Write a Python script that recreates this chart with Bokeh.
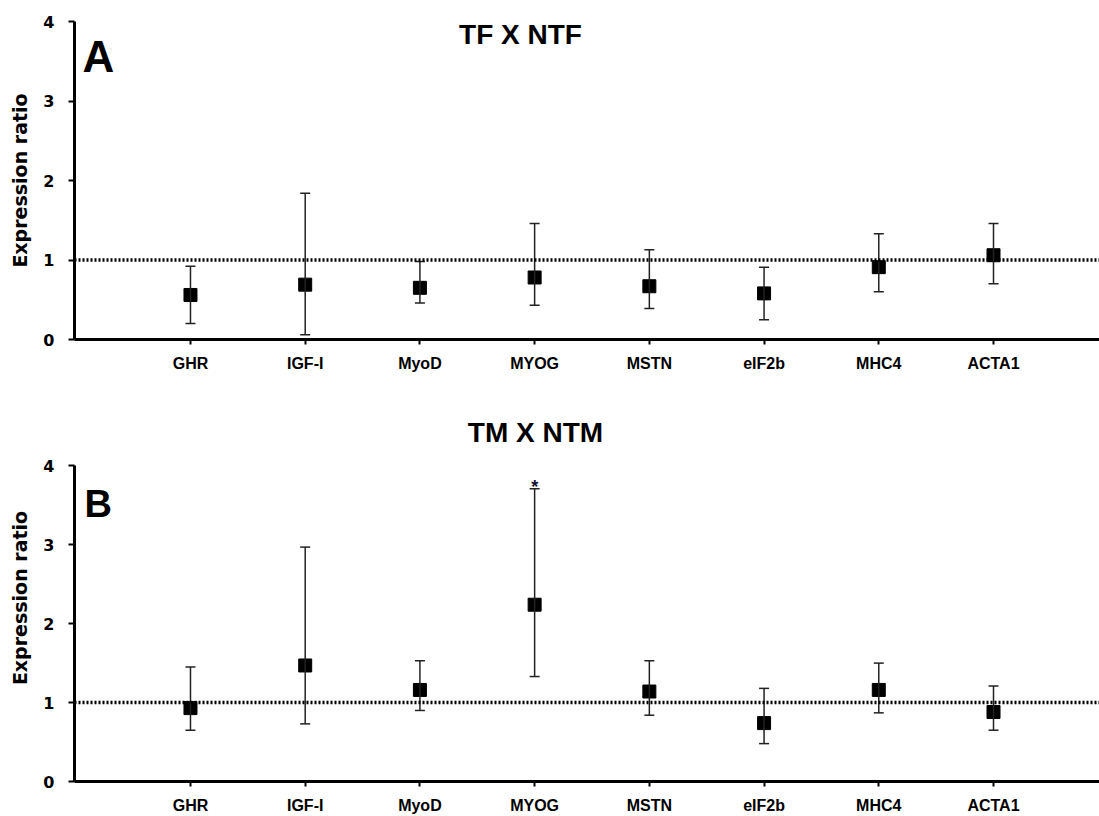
from bokeh.plotting import figure
from bokeh.models import (Range1d, FixedTicker, Whisker, TeeHead, Span, Label,
                          ColumnDataSource)
from bokeh.layouts import column
from bokeh.core.properties import value
from bokeh.embed import file_html
from bokeh.resources import INLINE

# ---- data ----
genes = ["GHR", "IGF-I", "MyoD", "MYOG", "MSTN", "eIF2b", "MHC4", "ACTA1"]

tf_mean = [0.56, 0.69, 0.65, 0.78, 0.67, 0.58, 0.91, 1.06]
tf_upper = [0.92, 1.84, 0.98, 1.46, 1.13, 0.91, 1.33, 1.46]
tf_lower = [0.20, 0.06, 0.46, 0.43, 0.39, 0.25, 0.60, 0.70]

tm_mean = [0.93, 1.47, 1.16, 2.24, 1.14, 0.74, 1.16, 0.88]
tm_upper = [1.45, 2.97, 1.53, 3.71, 1.53, 1.18, 1.50, 1.21]
tm_lower = [0.65, 0.73, 0.90, 1.33, 0.84, 0.48, 0.87, 0.65]
tm_sig = ["", "", "", "*", "", "", "", ""]

y_ticks = [0, 1, 2, 3, 4]
titles = ["TF X NTF", "TM X NTM"]
letters = ["A", "B"]
y_label = "Expression ratio"

SANS = "Liberation Sans"
DEJ = "DejaVu Sans"


def panel(mean, upper, lower, sig, title, letter, height, top, bottom, y_end,
          title_pos, letter_pos, letter_size):
    x = list(range(len(genes)))
    src = ColumnDataSource(dict(x=x, mean=mean, upper=upper, lower=lower,
                                sig=sig if sig else [""] * len(genes)))
    p = figure(width=1099, height=height, output_backend="svg",
               toolbar_location=None,
               x_range=Range1d(-1.011, 7.924), y_range=Range1d(0, y_end),
               min_border_left=74, min_border_right=0,
               min_border_top=top, min_border_bottom=bottom)
    p.outline_line_color = None
    p.grid.visible = False
    p.background_fill_color = "white"
    p.border_fill_color = "white"

    # y axis
    yax = p.yaxis[0]
    yax.ticker = FixedTicker(ticks=y_ticks)
    yax.bounds = (0, 4)
    yax.axis_line_width = 3
    yax.axis_line_color = "black"
    yax.major_tick_line_width = 2
    yax.major_tick_out = 6
    yax.major_tick_in = 0
    yax.minor_tick_line_color = None
    yax.major_label_text_font = DEJ
    yax.major_label_text_font_style = "bold"
    yax.major_label_text_font_size = "16px"
    yax.major_label_text_color = "black"
    yax.major_label_standoff = 14
    yax.axis_label = y_label
    yax.axis_label_text_font = DEJ
    yax.axis_label_text_font_style = "bold"
    yax.axis_label_text_font_size = "19px"
    yax.axis_label_text_color = "black"
    yax.axis_label_standoff = 9

    # x axis
    xax = p.xaxis[0]
    xax.ticker = FixedTicker(ticks=x)
    xax.major_label_overrides = {i: g for i, g in enumerate(genes)}
    xax.axis_line_width = 3
    xax.axis_line_color = "black"
    xax.major_tick_line_width = 2
    xax.major_tick_out = 5
    xax.major_tick_in = 0
    xax.minor_tick_line_color = None
    xax.major_label_text_font = SANS
    xax.major_label_text_font_style = "bold"
    xax.major_label_text_font_size = "16px"
    xax.major_label_text_color = "black"
    xax.major_label_standoff = 10

    # reference line at 1
    p.add_layout(Span(location=1, dimension="width", line_color="black",
                      line_width=3.5, line_dash="2 2"))

    # error bars
    p.add_layout(Whisker(source=src, base="x", upper="upper", lower="lower",
                         line_width=1.5, line_color="#222222",
                         upper_head=TeeHead(size=10, line_width=1.5, line_color="#222222"),
                         lower_head=TeeHead(size=10, line_width=1.5, line_color="#222222"),
                         level="glyph"))
    p.scatter("x", "mean", source=src, marker="square", size=13,
              fill_color="black", line_color="black")

    if sig:
        p.text("x", "upper", text="sig", source=src, text_align="center",
               text_baseline="alphabetic", y_offset=-2,
               text_font=value(SANS), text_font_style="bold",
               text_font_size="18px", text_color="#111133")

    p.add_layout(Label(x=title_pos[0], y=title_pos[1], x_units="screen",
                       y_units="screen", text=title, text_align="center",
                       text_baseline="alphabetic", text_font=SANS,
                       text_font_style="bold", text_font_size="28px",
                       text_color="black"))
    p.add_layout(Label(x=letter_pos[0], y=letter_pos[1], x_units="screen",
                       y_units="screen", text=letter, text_align="left",
                       text_baseline="alphabetic", text_font=SANS,
                       text_font_style="bold", text_font_size=letter_size,
                       text_color="black"))
    return p


pa = panel(tf_mean, tf_upper, tf_lower, None, titles[0], letters[0],
           height=410, top=21, bottom=71, y_end=4,
           title_pos=(446, 305), letter_pos=(8, 283), letter_size="44px")
pb = panel(tm_mean, tm_upper, tm_lower, tm_sig, titles[1], letters[1],
           height=406, top=4, bottom=33, y_end=4.65,
           title_pos=(461, 349), letter_pos=(10, 278), letter_size="38px")

layout = column(pa, pb, spacing=0)
open("out.html", "w").write(file_html(layout, INLINE))
